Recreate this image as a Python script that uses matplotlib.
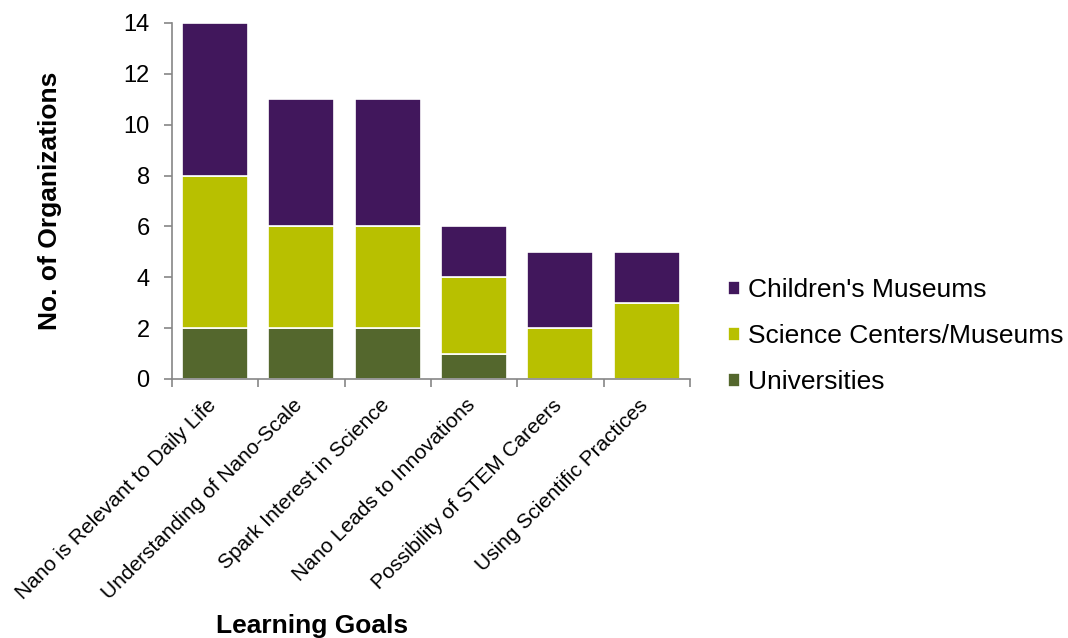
import matplotlib
matplotlib.use('Agg')
import matplotlib.pyplot as plt
import matplotlib.transforms as mtransforms
import numpy as np

plt.rcParams['font.family'] = ['Liberation Sans', 'DejaVu Sans']

goals = ['Nano is Relevant to Daily Life', 'Understanding of Nano-Scale',
         'Spark Interest in Science', 'Nano Leads to Innovations',
         'Possibility of STEM Careers', 'Using Scientific Practices']
universities = [2, 2, 2, 1, 0, 0]
science_centers = [6, 4, 4, 3, 2, 3]
childrens_museums = [6, 5, 5, 2, 3, 2]

col_univ = '#54672d'
col_sci = '#b8c000'
col_child = '#41175c'
axis_grey = '#868686'

fig = plt.figure(figsize=(10.68, 6.38), dpi=100)
ax = fig.add_axes([0.161, 0.406, 0.485, 0.558])

x = np.arange(len(goals))
width = 0.765
bottom_sci = np.array(universities)
bottom_child = bottom_sci + np.array(science_centers)
b1 = ax.bar(x, universities, width, color=col_univ, edgecolor='white',
            linewidth=1.2, label='Universities')
b2 = ax.bar(x, science_centers, width, bottom=bottom_sci, color=col_sci,
            edgecolor='white', linewidth=1.2, label='Science Centers/Museums')
b3 = ax.bar(x, childrens_museums, width, bottom=bottom_child, color=col_child,
            edgecolor='white', linewidth=1.2, label="Children's Museums")

ax.set_xlim(-0.5, len(goals) - 0.5)
ax.set_ylim(0, 14)
ax.set_yticks(range(0, 15, 2))
ax.tick_params(axis='y', labelsize=17, length=6, color=axis_grey, width=1.2,
               pad=10)

# category boundaries carry the ticks, labels sit at the centres
ax.set_xticks(np.arange(-0.5, len(goals)), minor=False)
ax.set_xticklabels([])
ax.set_xticks(x, minor=True)
ax.set_xticklabels(goals, minor=True, rotation=45, ha='right',
                   rotation_mode='anchor', fontsize=15)
ax.tick_params(axis='x', which='major', length=6, color=axis_grey, width=1.2)
ax.tick_params(axis='x', which='minor', length=0, pad=12)
shift = mtransforms.ScaledTranslation(-6 / 72, 0, fig.dpi_scale_trans)
for lbl in ax.get_xticklabels(minor=True):
    lbl.set_transform(lbl.get_transform() + shift)

for side in ['top', 'right']:
    ax.spines[side].set_visible(False)
for side in ['left', 'bottom']:
    ax.spines[side].set_color(axis_grey)
    ax.spines[side].set_linewidth(1.2)

fig.text(0.047, 0.686, 'No. of Organizations', fontsize=19, fontweight='bold',
         rotation=90, ha='center', va='center')
fig.text(0.292, 0.019, 'Learning Goals', fontsize=19, fontweight='bold',
         ha='center', va='center')

ax.legend(handles=[b3, b2, b1], loc='center left',
          bbox_to_anchor=(1.073, 0.12), frameon=False, fontsize=19,
          borderpad=0, borderaxespad=0, handlelength=0.45, handleheight=0.45,
          handletextpad=0.3, labelspacing=0.83)

fig.savefig('out.png', dpi=100)
